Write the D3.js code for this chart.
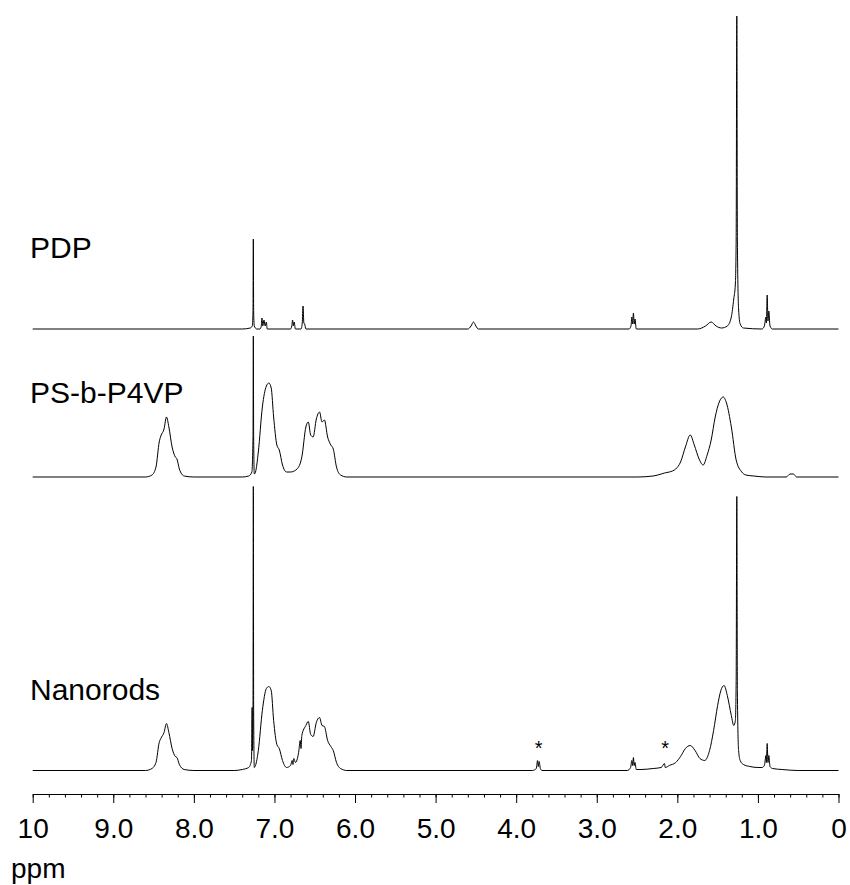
<!DOCTYPE html>
<html>
<head>
<meta charset="utf-8">
<script src="https://cdn.jsdelivr.net/npm/d3@7"></script>
<style>
  body { margin: 0; background: #fff; }
  svg { display: block; }
  .spec { fill: none; stroke: #000; stroke-width: 1; }
  .label { font-family: "Liberation Sans", Arial, sans-serif; font-size: 28px; fill: #000; }
  .name { font-size: 30px; }
  .axis text { font-family: "Liberation Sans", Arial, sans-serif; font-size: 28px; fill: #000; }
  .axis path, .axis line { stroke: #000; stroke-width: 1; }
</style>
</head>
<body>
<div id="chart"></div>
<script>
// spectra as [ppm, intensity] pairs
var pdp = [
  [10,0],[7.40,0],[7.30,1],[7.275,3],[7.266,17],[7.262,90],[7.258,17],[7.25,3],[7.22,0],
  [7.18,0],[7.165,2],[7.155,11],[7.145,3],[7.13,9],[7.115,3],[7.10,7],[7.09,0],
  [6.80,0],[6.785,3],[6.775,9],[6.765,3],[6.755,7],[6.74,0],
  [6.67,0],[6.655,6],[6.645,23],[6.635,6],[6.625,5],[6.61,0],
  [4.60,0],[4.56,3],[4.53,7],[4.50,3],[4.47,0],
  [2.60,0],[2.575,3],[2.565,12],[2.555,5],[2.545,16],[2.535,5],[2.525,10],[2.51,0],
  [1.75,0],[1.65,3],[1.58,7],[1.52,3],[1.45,1],[1.38,3],[1.33,12],[1.30,30],[1.28,45],
  [1.27,90],[1.262,313],[1.255,90],[1.24,20],[1.22,5],[1.18,1],
  [0.95,0],[0.92,3],[0.90,12],[0.895,6],[0.885,34],[0.875,8],[0.865,18],[0.85,3],[0.82,0],[0,0]
];
var psp4vp = [
  [10,0],[8.6,0],[8.52,2],[8.47,10],[8.43,35],[8.41,41],[8.37,48],[8.34,60],[8.31,50],
  [8.27,30],[8.23,20],[8.21,18],[8.18,8],[8.12,1],[8.0,0],
  [7.40,0],[7.32,1],[7.28,5],[7.266,40],[7.262,141],[7.258,40],[7.25,3],[7.235,5],
  [7.20,25],[7.15,70],[7.10,91],[7.07,94],[7.04,89],[7.01,60],[6.97,32],[6.94,27],
  [6.90,12],[6.85,5],[6.80,5],[6.72,8],[6.66,20],[6.61,50],[6.58,55],[6.55,42],[6.52,40],
  [6.48,58],[6.44,65],[6.41,55],[6.38,57],[6.34,40],[6.30,32],[6.27,28],[6.23,10],[6.18,2],[6.10,0],
  [2.5,0],[2.3,1],[2.20,3],[2.16,4],[2.10,5],[2.02,8],[1.96,15],[1.90,30],[1.84,42],
  [1.79,32],[1.73,18],[1.68,12],[1.63,22],[1.58,37],[1.53,60],[1.48,75],[1.43,80],
  [1.39,74],[1.33,50],[1.27,17],[1.20,5],[1.15,2],[1.05,1],[0.9,0],
  [0.65,0],[0.60,3],[0.56,3],[0.52,0],[0,0]
];
var nanorods = [
  [10,0],[8.6,0],[8.52,2],[8.47,8],[8.43,28],[8.41,32],[8.37,38],[8.34,47],[8.31,38],
  [8.27,22],[8.23,14],[8.21,13],[8.18,6],[8.12,1],[8.0,0],
  [7.5,0],[7.40,1],[7.32,3],[7.285,10],[7.277,63],[7.272,20],[7.266,60],[7.262,284],[7.258,60],
  [7.25,3],[7.235,5],[7.20,20],[7.15,60],[7.10,82],[7.07,84],[7.04,80],[7.01,50],
  [6.97,26],[6.94,22],[6.90,10],[6.85,3],[6.80,5],[6.78,10],[6.77,6],[6.76,12],[6.74,8],
  [6.70,18],[6.68,30],[6.67,22],[6.66,35],[6.61,45],[6.58,49],[6.55,36],[6.52,34],
  [6.48,48],[6.44,53],[6.41,45],[6.38,44],[6.34,30],[6.30,24],[6.27,20],[6.23,8],[6.18,2],[6.10,0],
  [3.80,0],[3.75,2],[3.735,10],[3.725,4],[3.715,9],[3.70,2],[3.68,0],
  [2.62,0],[2.58,3],[2.565,10],[2.555,5],[2.545,13],[2.535,5],[2.525,8],[2.51,1],
  [2.45,1],[2.30,2],[2.20,3],[2.16,7],[2.15,3],[2.10,5],[2.02,8],[1.96,14],[1.90,22],
  [1.84,25],[1.78,20],[1.72,12],[1.66,10],[1.60,20],[1.55,40],[1.50,65],[1.46,80],
  [1.42,85],[1.38,75],[1.33,55],[1.30,45],[1.28,50],[1.27,90],[1.262,274],[1.255,80],
  [1.24,20],[1.22,10],[1.18,6],[1.10,4],[1.0,3],[0.95,3],[0.92,5],[0.90,15],[0.895,8],
  [0.885,27],[0.875,8],[0.865,15],[0.85,4],[0.82,2],[0.7,1],[0.5,0],[0,0]
];
var spectrumNames = ["PDP", "PS-b-P4VP", "Nanorods"];
var impurityPpm = [3.72, 2.15];
var majorTicks = [10, 9, 8, 7, 6, 5, 4, 3, 2, 1, 0];
var majorLabels = ["10", "9.0", "8.0", "7.0", "6.0", "5.0", "4.0", "3.0", "2.0", "1.0", "0"];
var minorTicks = d3.range(0, 51).map(function(i) { return i / 5; });

var width = 850, height = 885;
var baselines = [329, 477, 770.5];
var labelY = [258, 403, 700];

var svg = d3.select("#chart").append("svg").attr("width", width).attr("height", height);

var x = d3.scaleLinear().domain([10, 0]).range([32.7, 838.5]);

var specs = [pdp, psp4vp, nanorods];
var ys = baselines.map(function(b) {
    return d3.scaleLinear().domain([0, 100]).range([b, b - 100]);
});

specs.forEach(function(s, i) {
    var line = d3.line()
        .x(function(d) { return x(d[0]); })
        .y(function(d) { return ys[i](d[1]); })
        .curve(d3.curveMonotoneX);
    svg.append("path").datum(s).attr("class", "spec").attr("d", line);
    svg.append("text").attr("class", "label name").attr("x", 30).attr("y", labelY[i]).text(spectrumNames[i]);
});

// asterisks over the impurity peaks in the nanorods spectrum
svg.selectAll(".star").data(impurityPpm).enter().append("text")
    .attr("class", "label star")
    .attr("x", function(d) { return x(d); })
    .attr("y", ys[2](15.5))
    .attr("text-anchor", "middle")
    .style("font-size", "20px")
    .text("*");

var axisY = 794;
svg.append("g").attr("class", "axis").attr("transform", "translate(0," + axisY + ")")
    .call(d3.axisBottom(x).tickValues(minorTicks).tickSize(3.5).tickSizeOuter(0).tickFormat(""));

var major = svg.append("g").attr("class", "axis").attr("transform", "translate(0," + axisY + ")")
    .call(d3.axisBottom(x).tickValues(majorTicks).tickSize(9).tickSizeOuter(0)
        .tickFormat(function(d, i) { return majorLabels[i]; }));
major.select(".domain").remove();
major.selectAll("text").attr("y", 44).attr("dy", 0);

svg.append("text").attr("class", "label").attr("x", 11).attr("y", 878).text("ppm");
</script>
</body>
</html>
